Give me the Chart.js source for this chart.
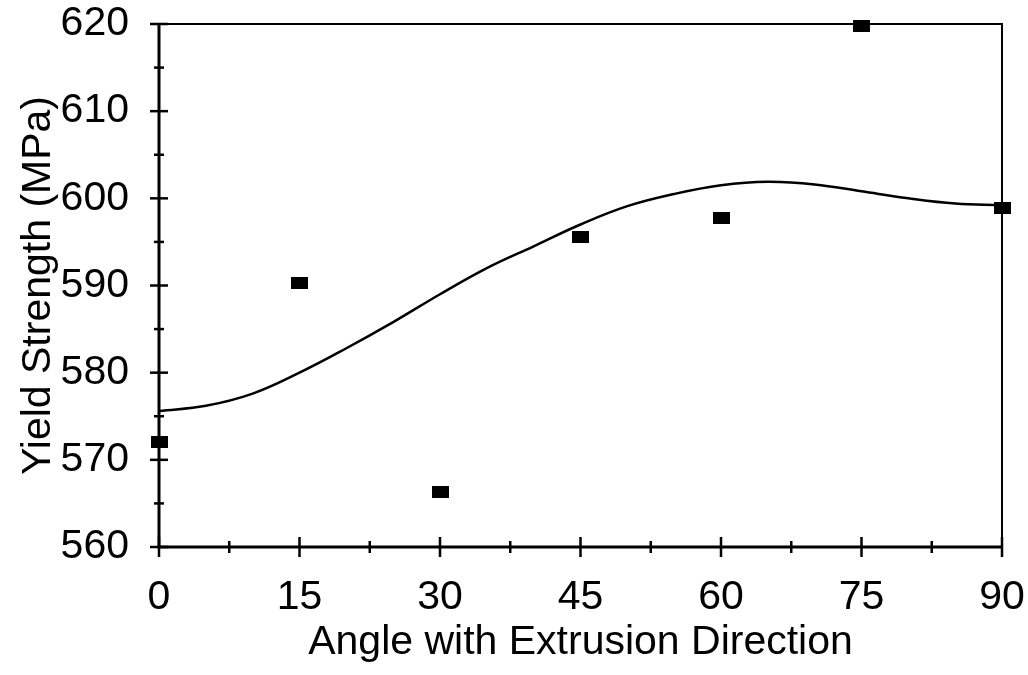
<!DOCTYPE html>
<html>
<head>
<meta charset="utf-8">
<script src="https://cdn.jsdelivr.net/npm/chart.js@4/dist/chart.umd.min.js"></script>
<style>
  html, body { margin: 0; padding: 0; background: #fff; }
  #wrap { width: 1028px; height: 675px; }
</style>
</head>
<body>
<div id="wrap"><canvas id="c" width="1028" height="675"></canvas></div>
<script>
// Measured data points (angle in degrees, yield strength in MPa)
const angles = [0, 15, 30, 45, 60, 75, 90];
const yieldStrength = [572.1, 590.3, 566.3, 595.6, 597.7, 619.8, 598.9];

// Fitted curve, every 5 degrees
const curveAngles = [0, 5, 10, 15, 20, 25, 30, 35, 40, 45, 50, 55, 60, 65, 70, 75, 80, 85, 90];
const curveValues = [575.6, 576.2, 577.6, 580.0, 582.8, 585.8, 589.0, 592.0, 594.5, 597.0, 599.1, 600.5, 601.5, 601.9, 601.6, 600.8, 600.0, 599.4, 599.2];

// Tick labels
const xTickValues = [0, 15, 30, 45, 60, 75, 90];
const yTickValues = [560, 570, 580, 590, 600, 610, 620];

const xTitle = 'Angle with Extrusion Direction';
const yTitle = 'Yield Strength (MPa)';

// rectangular marker
const marker = document.createElement('canvas');
marker.width = 17; marker.height = 12;
(function(){ const m = marker.getContext('2d'); m.fillStyle = '#000'; m.fillRect(0, 0, 17, 12); })();

const FONT = "'Liberation Sans', Arial, sans-serif";

const frameAndTicks = {
  id: 'frameAndTicks',
  afterDatasetsDraw(chart) {
    const ctx = chart.ctx;
    const a = chart.chartArea;
    const xs = chart.scales.x, ys = chart.scales.y;
    ctx.save();
    ctx.strokeStyle = '#000';
    // frame
    ctx.lineWidth = 2;
    ctx.beginPath();
    ctx.moveTo(a.left, a.top); ctx.lineTo(a.right, a.top); ctx.lineTo(a.right, a.bottom);
    ctx.stroke();
    ctx.lineWidth = 3;
    ctx.beginPath();
    ctx.moveTo(a.left, a.top); ctx.lineTo(a.left, a.bottom); ctx.lineTo(a.right, a.bottom);
    ctx.stroke();
    // ticks
    ctx.lineWidth = 2.5;
    for (let i = 0; i < xTickValues.length; i++) {
      const px = xs.getPixelForValue(xTickValues[i]);
      ctx.beginPath(); ctx.moveTo(px, a.bottom - 10); ctx.lineTo(px, a.bottom + 10); ctx.stroke();
      if (i < xTickValues.length - 1) {
        const mx = xs.getPixelForValue((xTickValues[i] + xTickValues[i + 1]) / 2);
        ctx.beginPath(); ctx.moveTo(mx, a.bottom - 6); ctx.lineTo(mx, a.bottom + 6); ctx.stroke();
      }
    }
    for (let i = 0; i < yTickValues.length; i++) {
      const py = ys.getPixelForValue(yTickValues[i]);
      ctx.beginPath(); ctx.moveTo(a.left - 9, py); ctx.lineTo(a.left + 9, py); ctx.stroke();
      if (i < yTickValues.length - 1) {
        const my = ys.getPixelForValue((yTickValues[i] + yTickValues[i + 1]) / 2);
        ctx.beginPath(); ctx.moveTo(a.left - 5, my); ctx.lineTo(a.left + 5, my); ctx.stroke();
      }
    }
    ctx.restore();
  }
};

new Chart(document.getElementById('c'), {
  data: {
    datasets: [
      {
        type: 'line',
        label: 'Fit',
        data: curveAngles.map((x, i) => ({ x, y: curveValues[i] })),
        borderColor: '#000',
        borderWidth: 2.5,
        pointRadius: 0,
        tension: 0.4,
        fill: false,
        order: 2
      },
      {
        type: 'scatter',
        label: 'Measured',
        data: angles.map((x, i) => ({ x, y: yieldStrength[i] })),
        pointStyle: marker,
        pointRadius: 8,
        backgroundColor: '#000',
        borderColor: '#000',
        order: 1,
        clip: false
      }
    ]
  },
  options: {
    responsive: false,
    animation: false,
    devicePixelRatio: 1,
    layout: { padding: { top: 24, right: 26, left: 0, bottom: 8 } },
    plugins: { legend: { display: false }, tooltip: { enabled: false } },
    scales: {
      x: {
        type: 'linear',
        min: 0, max: 90,
        afterBuildTicks: (s) => { s.ticks = xTickValues.map(v => ({ value: v })); },
        afterFit: (s) => { s.height = 120; s.paddingLeft = 0; s.paddingRight = 0; },
        grid: { display: false, drawTicks: false },
        border: { display: false },
        ticks: { color: '#000', font: { family: FONT, size: 41 }, padding: 26, maxRotation: 0, autoSkip: false },
        title: { display: true, text: xTitle, color: '#000', font: { family: FONT, size: 41 }, padding: { top: 0, bottom: 0 } }
      },
      y: {
        type: 'linear',
        min: 560, max: 620,
        afterBuildTicks: (s) => { s.ticks = yTickValues.map(v => ({ value: v })); },
        afterFit: (s) => { s.width = 159; s.paddingTop = 0; s.paddingBottom = 0; },
        grid: { display: false, drawTicks: false },
        border: { display: false },
        ticks: { color: '#000', font: { family: FONT, size: 41 }, padding: 30, autoSkip: false },
        title: { display: true, text: yTitle, color: '#000', font: { family: FONT, size: 41 }, padding: { top: 14, bottom: 0 } }
      }
    }
  },
  plugins: [frameAndTicks]
});
</script>
</body>
</html>
